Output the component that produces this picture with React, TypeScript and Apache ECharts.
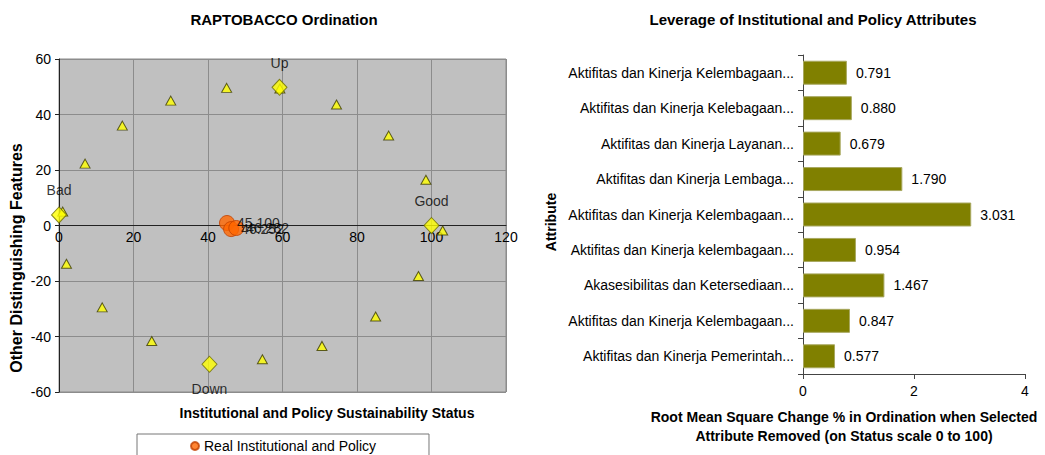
import React, { useEffect, useRef } from "react";
import * as echarts from "echarts";

const FONT = "'Liberation Sans', Arial, sans-serif";

// Left chart: ordination
const referencePoints: [number, number][] = [
  [1, 5], [7, 22.3], [17, 36], [30, 45], [45, 49.6], [59.3, 49.4], [74.5, 43.6],
  [88.5, 32.4], [98.5, 16.5], [103, -1.8], [96.5, -18.2], [85, -32.8],
  [70.6, -43.4], [54.6, -48.2], [24.9, -41.6], [11.6, -29.5], [2, -13.8],
];
const anchorNames = ["Bad", "Good", "Up", "Down"];
const anchorPoints: [number, number][] = [[0, 3.8], [100, 0], [59.2, 49.8], [40.4, -50]];
const anchorLabelPos = ["top", "top", "top", "bottom"];
const realPoints: [number, number][] = [[45.1, 0.9], [46.2, -1.3], [47.6, -0.9]];
const realLabels = ["45.100", "46.252", "46.282"];

// Right chart: leverage
const attributes = [
  "Aktifitas dan Kinerja Kelembagaan...",
  "Aktifitas dan Kinerja Kelebagaan...",
  "Aktifitas dan Kinerja Layanan...",
  "Aktifitas dan Kinerja Lembaga...",
  "Aktifitas dan Kinerja Kelembagaan...",
  "Aktifitas dan Kinerja kelembagaan...",
  "Akasesibilitas dan Ketersediaan...",
  "Aktifitas dan Kinerja Kelembagaan...",
  "Aktifitas dan Kinerja Pemerintah...",
];
const leverage = [0.791, 0.88, 0.679, 1.79, 3.031, 0.954, 1.467, 0.847, 0.577];

export default function App() {
  const ref = useRef<HTMLDivElement>(null);
  useEffect(() => {
    if (!ref.current) return;
    const chart = echarts.init(ref.current, undefined, { renderer: "svg" });
    const txt = { fontFamily: FONT, color: "#000" };
    // plot: top 59, bottom 392 -> zero line at 225.5 ; offset moves x axis up to zero
    chart.setOption({
      animation: false,
      textStyle: { fontFamily: FONT },
      grid: [
        { left: 59, right: 539, top: 59, bottom: 63, show: true, backgroundColor: "#c0c0c0", borderColor: "#8a8a8a", borderWidth: 1 },
        { left: 803, right: 20, top: 55, bottom: 81 },
      ],
      xAxis: [
        {
          gridIndex: 0, type: "value", min: 0, max: 120, interval: 20,
          position: "bottom", offset: -166.5,
          axisLine: { onZero: false, lineStyle: { color: "#222", width: 1 } },
          axisTick: { show: false },
          axisLabel: { ...txt, fontSize: 14, margin: 4 },
          splitLine: { show: true, lineStyle: { color: "#8c8c8c", width: 1 } },
        },
        {
          gridIndex: 1, type: "value", min: 0, max: 4, interval: 2,
          axisLine: { show: true, lineStyle: { color: "#444" } },
          axisTick: { show: true, length: 5, lineStyle: { color: "#444" } },
          axisLabel: { ...txt, fontSize: 14, margin: 10 },
          splitLine: { show: false },
        },
      ],
      yAxis: [
        {
          gridIndex: 0, type: "value", min: -60, max: 60, interval: 20,
          axisLine: { show: true, onZero: false, lineStyle: { color: "#222" } },
          axisTick: { show: true, length: 4, lineStyle: { color: "#222" } },
          axisLabel: { ...txt, fontSize: 14, margin: 8 },
          splitLine: { show: true, lineStyle: { color: "#8c8c8c", width: 1 } },
        },
        {
          gridIndex: 1, type: "category", data: attributes, inverse: true,
          axisLine: { show: true, lineStyle: { color: "#444" } },
          axisTick: { show: true, length: 5, lineStyle: { color: "#444" } },
          axisLabel: { ...txt, fontSize: 14, margin: 9 },
        },
      ],
      legend: {
        data: ["Real Institutional and Policy"],
        left: 137, top: 434,
        padding: [5, 53, 8, 53],
        borderColor: "#777", borderWidth: 1, borderRadius: 0,
        backgroundColor: "#fff",
        icon: "circle", itemWidth: 8, itemHeight: 8, itemGap: 5,
        textStyle: { ...txt, fontSize: 14, padding: [0, 0, 0, 0] },
      },
      graphic: [
        { type: "text", x: 284, y: 19, style: { text: "RAPTOBACCO Ordination", font: `bold 15px ${FONT}`, fill: "#000", textAlign: "center", textVerticalAlign: "middle" } },
        { type: "text", x: 813, y: 19, style: { text: "Leverage of Institutional and Policy Attributes", font: `bold 15px ${FONT}`, fill: "#000", textAlign: "center", textVerticalAlign: "middle" } },
        { type: "text", x: 16, y: 258, rotation: Math.PI / 2, style: { text: "Other Distinguishing Features", font: `bold 16px ${FONT}`, fill: "#000", textAlign: "center", textVerticalAlign: "middle" } },
        { type: "text", x: 327, y: 413, style: { text: "Institutional and Policy Sustainability Status", font: `bold 14px ${FONT}`, fill: "#000", textAlign: "center", textVerticalAlign: "middle" } },
        { type: "text", x: 551, y: 222, rotation: Math.PI / 2, style: { text: "Attribute", font: `bold 14px ${FONT}`, fill: "#000", textAlign: "center", textVerticalAlign: "middle" } },
        { type: "text", x: 844, y: 417, style: { text: "Root Mean Square Change % in Ordination when Selected", font: `bold 14px ${FONT}`, fill: "#000", textAlign: "center", textVerticalAlign: "middle" } },
        { type: "text", x: 844, y: 436, style: { text: "Attribute Removed (on Status scale 0 to 100)", font: `bold 14px ${FONT}`, fill: "#000", textAlign: "center", textVerticalAlign: "middle" } },
      ],
      series: [
        {
          name: "Reference", type: "scatter", xAxisIndex: 0, yAxisIndex: 0,
          symbol: "triangle", symbolSize: [10, 9],
          itemStyle: { color: "#ffff00", borderColor: "#3a3a00", borderWidth: 1 },
          data: referencePoints,
        },
        {
          name: "Anchors", type: "scatter", xAxisIndex: 0, yAxisIndex: 0,
          symbol: "diamond", symbolSize: [15, 16],
          itemStyle: { color: "#ffff00", borderColor: "#6b6b00", borderWidth: 1 },
          data: anchorPoints.map((p, i) => ({
            name: anchorNames[i], value: p,
            label: { show: true, position: anchorLabelPos[i], distance: 9, formatter: "{b}", ...txt, fontSize: 14 },
          })),
        },
        {
          name: "Real Institutional and Policy", type: "scatter", xAxisIndex: 0, yAxisIndex: 0,
          symbol: "circle", symbolSize: 15,
          itemStyle: { color: "#ff6600", borderColor: "#c04000", borderWidth: 1 },
          data: realPoints.map((p, i) => ({
            name: realLabels[i], value: p,
            label: { show: true, position: "right", distance: 2, formatter: "{b}", ...txt, fontSize: 14 },
          })),
        },
        {
          name: "Leverage", type: "bar", xAxisIndex: 1, yAxisIndex: 1,
          barWidth: 24,
          itemStyle: { color: "#808000", borderColor: "#a8a860", borderWidth: 1 },
          label: { show: true, position: "right", distance: 9, ...txt, fontSize: 14, formatter: (p: any) => Number(p.value).toFixed(3) },
          data: leverage,
        },
      ],
    });
    return () => chart.dispose();
  }, []);
  return <div ref={ref} style={{ position: "fixed", left: 0, top: 0, width: 1045, height: 455, background: "#fff" }} />;
}
